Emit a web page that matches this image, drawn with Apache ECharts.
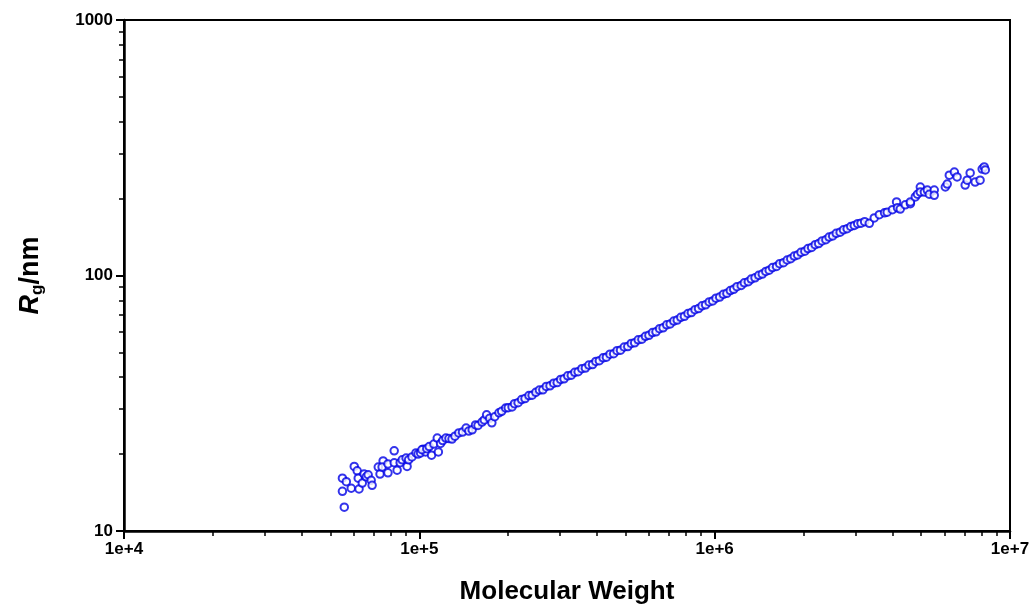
<!DOCTYPE html>
<html>
<head>
<meta charset="utf-8">
<script src="https://cdn.jsdelivr.net/npm/echarts@6/dist/echarts.min.js"></script>
<style>
html,body{margin:0;padding:0;background:#fff;}
#chart{width:1033px;height:607px;}
</style>
</head>
<body>
<div id="chart"></div>
<script>
// Molecular weight (g/mol) of each measured point
const molecularWeight = [
  55700,54900,54900,56600,58800,60200,61600,62500,62100,65000,64100,66100,67100,68700,69200,
  72600,73600,75400,74800,78300,78300,82200,82200,84100,86100,87500,90200,90900,92000,94400,
  97400,99000,101000,103000,105000,
  102000,106000,108000,110000,112000,115000,116000,118000,120000,123000,126000,129000,132000,
  136000,140000,144000,147000,151000,155000,158000,163000,166000,169000,173000,176000,180000,
  186000,190000,196000,200000,206000,
  210000,216000,222000,228000,235000,241000,248000,255000,262000,269000,277000,285000,293000,
  301000,309000,318000,327000,336000,345000,355000,365000,375000,386000,396000,407000,419000,
  430000,442000,455000,467000,480000,494000,508000,522000,536000,551000,567000,583000,599000,
  616000,633000,651000,669000,688000,707000,727000,747000,768000,790000,812000,834000,858000,
  882000,906000,932000,958000,985000,1010000,1040000,1070000,1100000,1130000,1160000,1190000,
  1230000,1260000,1300000,1330000,1370000,1410000,1450000,1490000,1530000,1570000,1620000,
  1660000,1710000,1760000,1810000,1860000,1910000,1960000,2020000,2070000,2130000,2190000,
  2250000,2310000,2380000,2440000,2510000,2580000,2660000,2730000,2810000,2890000,2970000,
  3050000,3130000,3220000,
  3340000,3470000,3610000,3760000,3840000,4000000,4130000,4160000,4250000,4420000,4600000,
  4600000,4780000,4860000,4970000,4970000,5130000,5250000,5330000,5540000,5540000,6040000,
  6130000,6230000,6480000,6620000,7050000,7160000,7330000,7620000,7920000,8050000,8180000,8250000
];
// Radius of gyration (nm) of each measured point
const radiusOfGyration = [
  12.4,14.3,16.1,15.6,14.7,17.9,17.2,14.6,16.1,16.7,15.4,16.3,16.6,15.8,15.1,
  17.8,16.7,18.8,17.8,18.3,16.9,20.6,18.5,17.3,18.5,19.0,19.3,17.9,19.0,19.5,
  20.2,20.0,20.2,20.9,20.4,
  20.8,21.0,21.4,19.8,21.9,23.1,20.4,22.0,22.6,23.1,23.0,22.9,23.5,
  24.2,24.4,25.3,24.6,24.9,26.0,25.9,26.7,27.2,28.5,27.6,26.5,28.0,
  29.0,29.4,30.3,30.4,30.6,
  31.5,31.8,32.7,33.0,33.9,34.0,34.9,35.6,35.7,36.8,37.0,37.9,38.1,
  39.2,39.4,40.5,40.7,41.8,42.0,43.2,43.4,44.6,44.8,46.1,46.4,47.6,
  47.9,49.2,49.4,50.8,51.0,52.5,52.7,54.2,54.5,56.0,56.3,57.8,58.3,
  59.8,60.2,61.9,62.4,64.1,64.6,66.3,66.9,68.6,69.2,71.0,71.6,73.5,
  74.2,76.1,76.8,78.8,79.5,81.5,82.3,84.4,85.2,87.3,88.3,90.4,
  91.4,93.6,94.6,96.8,97.9,100.2,101.3,103.7,104.9,107.4,108.5,
  111.2,112.3,115.0,116.3,119.1,120.3,123.2,124.5,127.5,128.8,132.0,
  133.3,136.6,138.0,141.4,142.9,146.3,147.8,151.0,152.5,155.5,157.0,
  159.5,160.2,162.5,
  160,168,173,176,177,181,194,184,182,189,191,
  194,203,208,222,212,212,216,208,216,206,222,
  228,247,254,243,226,236,252,232,236,261,266,259
];
const xTickValues = [1e4, 1e5, 1e6, 1e7];
const xTickLabels = ['1e+4', '1e+5', '1e+6', '1e+7'];
const yTickValues = [10, 100, 1000];
const yTickLabels = ['10', '100', '1000'];

const points = molecularWeight.map((m, i) => [m, radiusOfGyration[i]]);

function minors(lo, hi) {
  const out = [];
  for (let d = lo; d < hi; d *= 10) {
    for (let k = 2; k <= 9; k++) out.push(k * d);
  }
  return out;
}
const xMinor = minors(1e4, 1e7);
const yMinor = minors(10, 1000);

const FONT = 'Liberation Sans, Arial, sans-serif';
const labelFont = {fontFamily: FONT, fontWeight: 'bold', fontSize: 17, color: '#000'};
const black = '#000';
const blue = '#0000e6';

const chart = echarts.init(document.getElementById('chart'), null, {renderer: 'canvas'});
chart.setOption({
  backgroundColor: '#fff',
  animation: false,
  grid: {left: 124, right: 23, top: 20, bottom: 76, containLabel: false, outerBoundsMode: 'none',
    show: true, borderColor: black, borderWidth: 2, backgroundColor: 'transparent'},
  xAxis: [{
    type: 'log', logBase: 10, min: 1e4, max: 1e7, position: 'bottom',
    name: 'Molecular Weight', nameLocation: 'middle', nameGap: 48,
    nameTextStyle: {fontFamily: FONT, fontWeight: 'bold', fontSize: 26, color: black},
    axisLine: {show: true, lineStyle: {color: black, width: 2.5}},
    axisTick: {show: true, inside: false, length: 8, lineStyle: {color: black, width: 2}, customValues: xTickValues},
    axisLabel: Object.assign({margin: 10, customValues: xTickValues,
      formatter: v => xTickLabels[xTickValues.findIndex(t => Math.abs(t - v) / t < 1e-6)] || ''}, labelFont),
    splitLine: {show: false}
  }, {
    type: 'log', logBase: 10, min: 1e4, max: 1e7, position: 'bottom',
    axisLine: {show: false},
    axisTick: {show: true, length: 5, lineStyle: {color: black, width: 1.5}, customValues: xMinor},
    axisLabel: {show: false},
    splitLine: {show: false}
  }],
  yAxis: [{
    type: 'log', logBase: 10, min: 10, max: 1000, position: 'left',
    name: '{i|R}{s|g}{n|/nm}', nameLocation: 'middle', nameGap: 78, nameRotate: 90,
    nameTextStyle: {
      rich: {
        i: {fontFamily: FONT, fontStyle: 'italic', fontWeight: 'bold', fontSize: 27, color: black, lineHeight: 30, verticalAlign: 'middle'},
        s: {fontFamily: FONT, fontWeight: 'bold', fontSize: 17, color: black, lineHeight: 30, verticalAlign: 'bottom'},
        n: {fontFamily: FONT, fontWeight: 'bold', fontSize: 27, color: black, lineHeight: 30, verticalAlign: 'middle'}
      }
    },
    axisLine: {show: true, lineStyle: {color: black, width: 2.5}},
    axisTick: {show: true, length: 8, lineStyle: {color: black, width: 2}, customValues: yTickValues},
    axisLabel: Object.assign({margin: 11, customValues: yTickValues,
      formatter: v => yTickLabels[yTickValues.findIndex(t => Math.abs(t - v) / t < 1e-6)] || ''}, labelFont),
    splitLine: {show: false}
  }, {
    type: 'log', logBase: 10, min: 10, max: 1000, position: 'left',
    axisLine: {show: false},
    axisTick: {show: true, length: 5, lineStyle: {color: black, width: 1.5}, customValues: yMinor},
    axisLabel: {show: false},
    splitLine: {show: false}
  }],
  series: [{
    type: 'scatter',
    xAxisIndex: 0, yAxisIndex: 0,
    data: points,
    symbol: 'emptyCircle',
    symbolSize: 7.5,
    itemStyle: {color: blue, borderColor: blue, borderWidth: 1.5},
    emphasis: {disabled: true}
  }]
});
</script>
</body>
</html>
